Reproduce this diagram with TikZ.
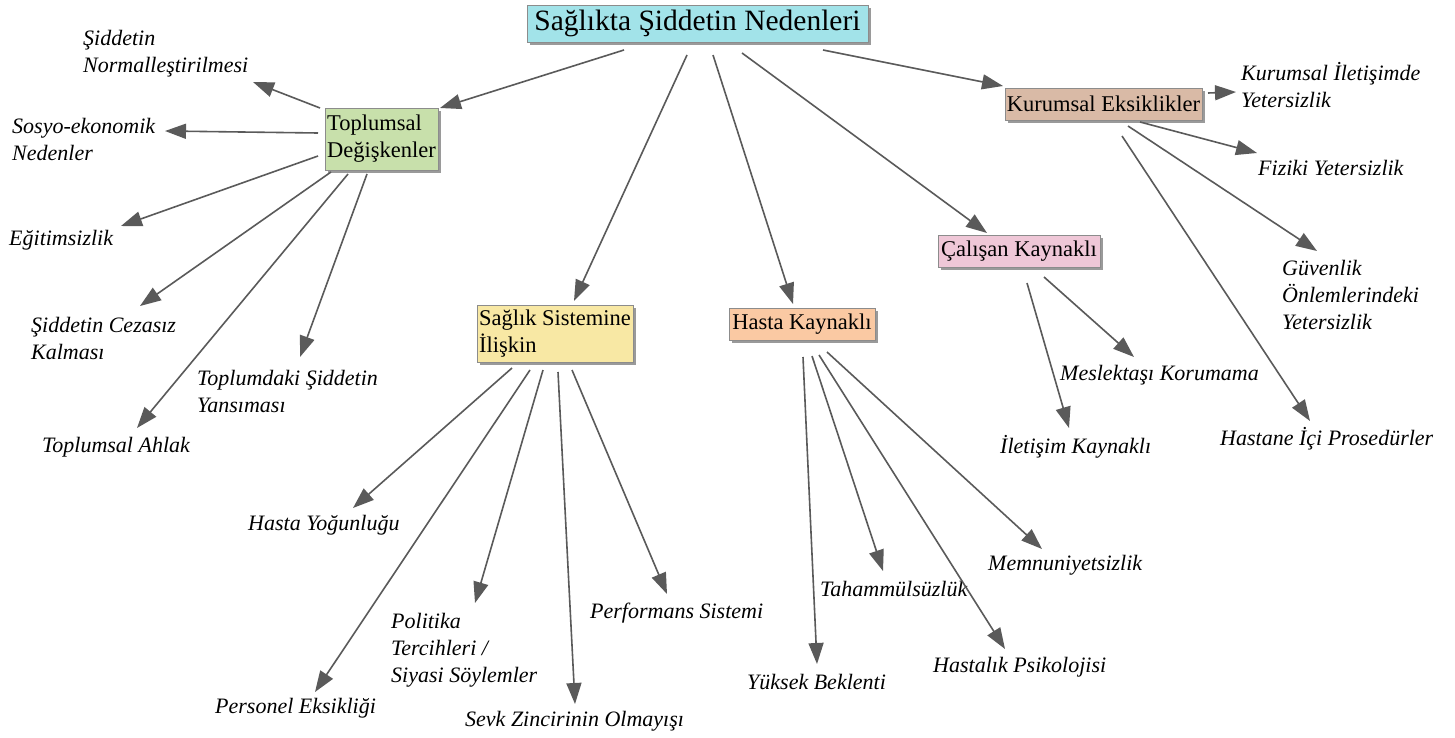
\documentclass[tikz,border=0pt]{standalone}
\usepackage{fontspec}
\setmainfont{Liberation Serif}
\usetikzlibrary{arrows.meta,shadows}
\definecolor{arrowgray}{HTML}{5A5A5A}
\definecolor{boxline}{HTML}{8C8C8C}
\definecolor{shadowgray}{HTML}{9A9A9A}
\definecolor{titlefill}{HTML}{A2E3E9}
\definecolor{greenfill}{HTML}{C8E0AB}
\definecolor{tanfill}{HTML}{D9BAA6}
\definecolor{yellowfill}{HTML}{F8E8A4}
\definecolor{peachfill}{HTML}{FAC9A3}
\definecolor{pinkfill}{HTML}{EFC7D7}
\begin{document}
\begin{tikzpicture}[x=1pt,y=-1pt,
  catbox/.style={draw=boxline, line width=0.8pt, inner sep=0pt,
    font=\fontsize{22.5}{27}\selectfont, align=left,
    drop shadow={shadow xshift=3pt, shadow yshift=-3pt, fill=shadowgray, opacity=1}},
  leaf/.style={font=\itshape\fontsize{22}{27}\selectfont, inner sep=0pt, anchor=west, align=left},
  arr/.style={draw=arrowgray, line width=1.6pt, -{Triangle[length=21pt,width=15pt]}}]
\useasboundingbox (0,0) rectangle (1455,738);
\fill[white] (0,0) rectangle (1455,738);

% main and category boxes
\node[catbox, fill=titlefill, minimum width=341pt, minimum height=37pt,
  font=\fontsize{29.5}{34}\selectfont] (root) at (697.5,23.5) {Sağlıkta Şiddetin Nedenleri};
\node[catbox, fill=greenfill, minimum width=113pt, minimum height=62pt] (tg) at (381.5,139) {Toplumsal\\Değişkenler};
\node[catbox, fill=tanfill, minimum width=197pt, minimum height=32pt] (ke) at (1103.5,104) {Kurumsal Eksiklikler};
\node[catbox, fill=yellowfill, minimum width=156pt, minimum height=57pt] (ss) at (555,333.5) {Sağlık Sistemine\\İlişkin};
\node[catbox, fill=peachfill, minimum width=146pt, minimum height=32pt] (hk) at (802,324) {Hasta Kaynaklı};
\node[catbox, fill=pinkfill, minimum width=162pt, minimum height=32pt] (ck) at (1019,251) {Çalışan Kaynaklı};

% leaves
\node[leaf] (l1) at (83,54) {Şiddetin\\Normalleştirilmesi};
\node[leaf] (l2) at (12,139) {Sosyo-ekonomik\\Nedenler};
\node[leaf] (l3) at (9,240) {Eğitimsizlik};
\node[leaf] (l4) at (31,338) {Şiddetin Cezasız\\Kalması};
\node[leaf] (l5) at (197,391) {Toplumdaki Şiddetin\\Yansıması};
\node[leaf] (l6) at (42,447) {Toplumsal Ahlak};
\node[leaf] (l7) at (1241,85) {Kurumsal İletişimde\\Yetersizlik};
\node[leaf] (l8) at (1258,168) {Fiziki Yetersizlik};
\node[leaf] (l9) at (1282,295) {Güvenlik\\Önlemlerindeki\\Yetersizlik};
\node[leaf] (l10) at (1060,375) {Meslektaşı Korumama};
\node[leaf] (l11) at (1000,447) {İletişim Kaynaklı};
\node[leaf] (l12) at (1220,439) {Hastane İçi Prosedürler};
\node[leaf] (l13) at (248,525) {Hasta Yoğunluğu};
\node[leaf] (l14) at (391,650) {Politika\\Tercihleri /\\Siyasi Söylemler};
\node[leaf] (l15) at (215,708) {Personel Eksikliği};
\node[leaf] (l16) at (465,721) {Sevk Zincirinin Olmayışı};
\node[leaf] (l17) at (590,613) {Performans Sistemi};
\node[leaf] (l18) at (747,682) {Yüksek Beklenti};
\node[leaf] (l19) at (820,589) {Tahammülsüzlük};
\node[leaf] (l20) at (933,667) {Hastalık Psikolojisi};
\node[leaf] (l21) at (988,565) {Memnuniyetsizlik};

% arrow end points
\coordinate (r1) at (624,50);   \coordinate (r1t) at (440,108);
\coordinate (r2) at (687,55);   \coordinate (r2t) at (574,301);
\coordinate (r3) at (713,55);   \coordinate (r3t) at (793,304);
\coordinate (r4) at (742,53);   \coordinate (r4t) at (987,233);
\coordinate (r5) at (823,50);   \coordinate (r5t) at (1003,86);

\coordinate (a1) at (320,108);  \coordinate (a1t) at (253,82);
\coordinate (a2) at (318,133);  \coordinate (a2t) at (165,131);
\coordinate (a3) at (318,156);  \coordinate (a3t) at (121,226);
\coordinate (a4) at (331,172);  \coordinate (a4t) at (140,306);
\coordinate (a5) at (348,174);  \coordinate (a5t) at (137,428);
\coordinate (a6) at (367,174);  \coordinate (a6t) at (300,357);

\coordinate (b1) at (1208,93);  \coordinate (b1t) at (1236,92);
\coordinate (b2) at (1140,122); \coordinate (b2t) at (1257,153);
\coordinate (b3) at (1128,126); \coordinate (b3t) at (1317,251);
\coordinate (b4) at (1122,136); \coordinate (b4t) at (1310,421);

\coordinate (c1) at (1044,277); \coordinate (c1t) at (1134,357);
\coordinate (c2) at (1027,283); \coordinate (c2t) at (1069,428);

\coordinate (d1) at (512,368);  \coordinate (d1t) at (353,508);
\coordinate (d2) at (530,370);  \coordinate (d2t) at (315,692);
\coordinate (d3) at (543,370);  \coordinate (d3t) at (475,603);
\coordinate (d4) at (558,372);  \coordinate (d4t) at (575,704);
\coordinate (d5) at (572,370);  \coordinate (d5t) at (667,594);

\coordinate (e1) at (803,357);  \coordinate (e1t) at (817,664);
\coordinate (e2) at (812,356);  \coordinate (e2t) at (883,571);
\coordinate (e3) at (819,355);  \coordinate (e3t) at (1005,649);
\coordinate (e4) at (827,352);  \coordinate (e4t) at (1042,549);

\foreach \s in {r1,r2,r3,r4,r5,a1,a2,a3,a4,a5,a6,b1,b2,b3,b4,c1,c2,d1,d2,d3,d4,d5,e1,e2,e3,e4}
  \draw[arr] (\s) -- (\s t);
\end{tikzpicture}
\end{document}
